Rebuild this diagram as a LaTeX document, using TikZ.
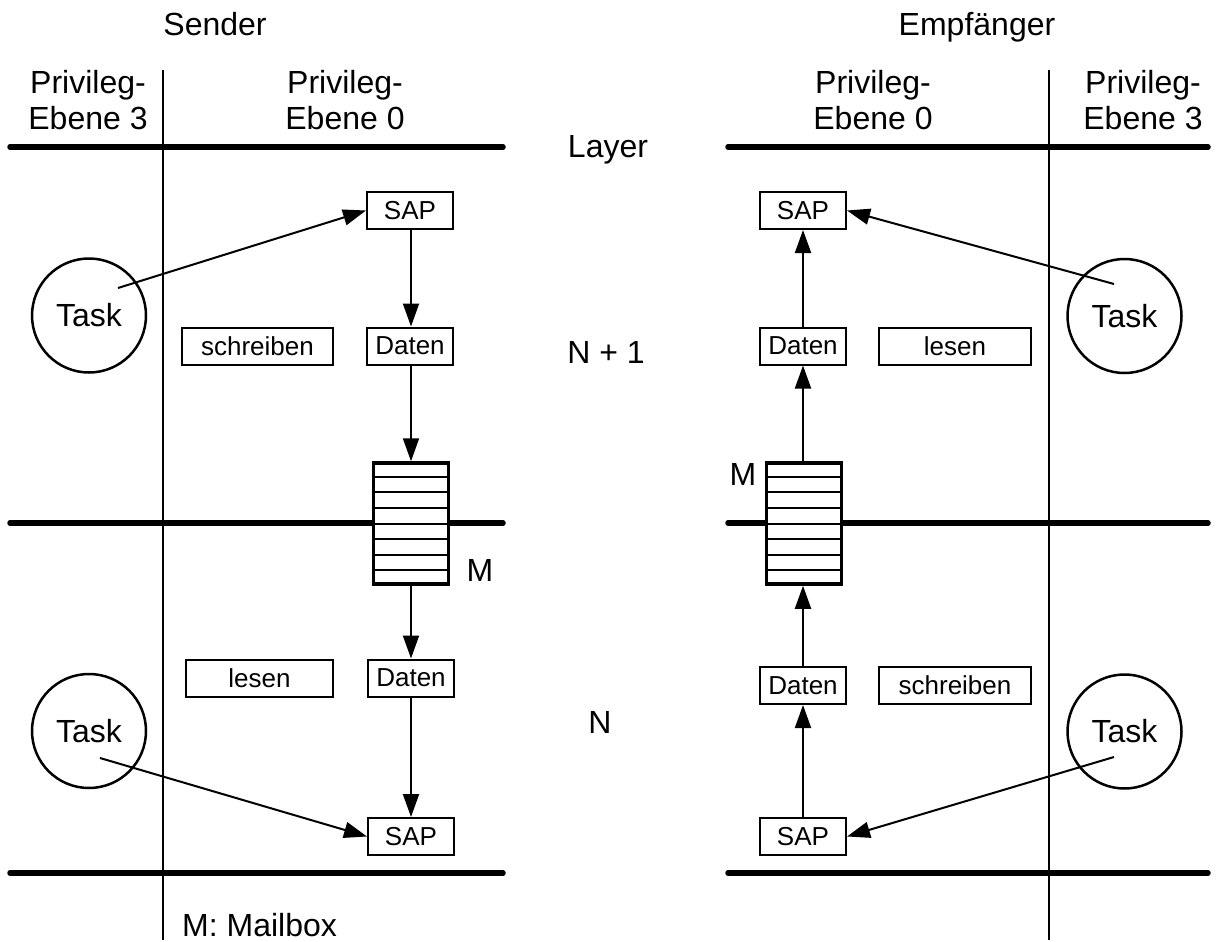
\documentclass[tikz,border=0pt]{standalone}
\usepackage{fontspec}
\setmainfont{Liberation Sans}
\usetikzlibrary{arrows.meta,calc}

\begin{document}
\begin{tikzpicture}[x=1pt,y=-1pt,>={Triangle[length=23pt,width=16pt]},
  every node/.style={font=\fontsize{32}{36}\selectfont},
  box/.style={draw,fill=white,line width=2pt,minimum width=86pt,minimum height=37pt,inner sep=0pt,
    font=\fontsize{26}{30}\selectfont},
  task/.style={draw,circle,fill=white,line width=2.5pt,minimum size=114pt,inner sep=0pt},
  mbox/.style={draw,fill=white,line width=3.5pt,minimum width=75pt,minimum height=121pt,inner sep=0pt},
  layer/.style={line width=5.5pt,line cap=round},
  conn/.style={->,line width=2pt}]
\useasboundingbox (0,0) rectangle (1218,942);

% Ebenen und Schichtgrenzen
\draw[line width=2pt] (163,70) -- (163,940);
\draw[line width=2pt] (1049,70) -- (1049,940);
\foreach \y in {147,523,873} {
  \draw[layer] (10,\y) -- (503,\y);
  \draw[layer] (728,\y) -- (1208,\y);
}

% Kopf
\node[anchor=base] (snd) at (215,36) {Sender};
\node[anchor=base] (emp) at (977,36) {Empfänger};
\node[align=center] (pl3) at (88,100) {Privileg-\\Ebene 3};
\node[align=center] (pl0) at (345,100) {Privileg-\\Ebene 0};
\node[align=center] (pr0) at (873,100) {Privileg-\\Ebene 0};
\node[align=center] (pr3) at (1143,100) {Privileg-\\Ebene 3};
\node[anchor=base] (lay) at (608,157) {Layer};
\node (n1) at (606,352) {N + 1};
\node (n0) at (600,722) {N};

% Sender
\node[box] (sapA) at (410,210.5) {SAP};
\node[box] (datA) at (410,346) {Daten};
\node[box,minimum width=151pt] (schA) at (257.5,346) {schreiben};
\node[mbox] (mbA) at (411,523.5) {};
\node[box] (datB) at (411,678) {Daten};
\node[box,minimum width=147pt] (lesA) at (259.5,678) {lesen};
\node[box] (sapB) at (411,836.5) {SAP};
\node[task] (tA) at (89,315.5) {Task};
\node[task] (tB) at (89,731) {Task};
\node (mA) at (480,570) {M};

% Empfaenger
\node[box] (sapC) at (803,210.5) {SAP};
\node[box] (datC) at (803,346) {Daten};
\node[box,minimum width=152pt] (lesC) at (955,346) {lesen};
\node[mbox] (mbC) at (804,523.5) {};
\node[box] (datD) at (803,685.5) {Daten};
\node[box,minimum width=152pt] (schD) at (955,685.5) {schreiben};
\node[box] (sapD) at (803,836.5) {SAP};
\node[task] (tC) at (1124.5,316) {Task};
\node[task] (tD) at (1124.5,731.5) {Task};
\node (mC) at (743,474) {M};

% Mailbox-Faecher
\foreach \m in {mbA,mbC}
  \foreach \i in {1,...,7}
    \draw[line width=2pt] ($(\m.north west)!\i/8!(\m.south west)$) -- ($(\m.north east)!\i/8!(\m.south east)$);

% Verbindungen
\coordinate (tA0) at (118,288);
\coordinate (tB0) at (100,758);
\coordinate (tC0) at (1114,284);
\coordinate (tD0) at (1114,757);
\draw[conn] (tA0) -- (sapA.west);
\draw[conn] (tB0) -- (sapB.west);
\draw[conn] (tC0) -- (sapC.east);
\draw[conn] (tD0) -- (sapD.east);
\draw[conn] (sapA.south -| mbA) -- (datA.north -| mbA);
\draw[conn] (datA.south -| mbA) -- (mbA.north);
\draw[conn] (mbA.south) -- (datB.north);
\draw[conn] (datB) -- (sapB);
\draw[conn] (sapD) -- (datD);
\draw[conn] (datD.north) -- (mbC.south -| datD);
\draw[conn] (mbC.north -| datC) -- (datC.south);
\draw[conn] (datC) -- (sapC);

\node[anchor=base west,inner sep=0pt] (leg) at (182,936) {M: Mailbox};
\end{tikzpicture}
\end{document}
